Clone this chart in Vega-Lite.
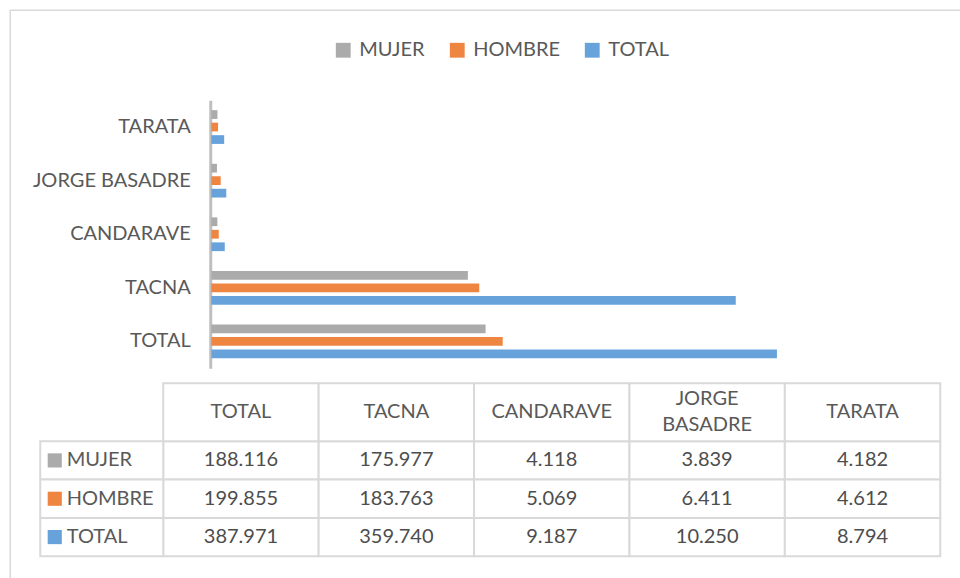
{
  "$schema": "https://vega.github.io/schema/vega-lite/v6.json",
  "padding": {"left": 9.25, "top": 9.25, "right": 0, "bottom": 0},
  "bounds": "flush",
  "spacing": 73,
  "config": {
    "view": {"stroke": null},
    "font": "Lato",
    "locale": {"number": {"decimal": ",", "thousands": ".", "grouping": [3], "currency": ["", ""]}}
  },
  "datasets": {
    "pob": [
      {"provincia": "TOTAL", "sexo": "MUJER", "valor": 188116},
      {"provincia": "TACNA", "sexo": "MUJER", "valor": 175977},
      {"provincia": "CANDARAVE", "sexo": "MUJER", "valor": 4118},
      {"provincia": "JORGE BASADRE", "sexo": "MUJER", "valor": 3839},
      {"provincia": "TARATA", "sexo": "MUJER", "valor": 4182},
      {"provincia": "TOTAL", "sexo": "HOMBRE", "valor": 199855},
      {"provincia": "TACNA", "sexo": "HOMBRE", "valor": 183763},
      {"provincia": "CANDARAVE", "sexo": "HOMBRE", "valor": 5069},
      {"provincia": "JORGE BASADRE", "sexo": "HOMBRE", "valor": 6411},
      {"provincia": "TARATA", "sexo": "HOMBRE", "valor": 4612},
      {"provincia": "TOTAL", "sexo": "TOTAL", "valor": 387971},
      {"provincia": "TACNA", "sexo": "TOTAL", "valor": 359740},
      {"provincia": "CANDARAVE", "sexo": "TOTAL", "valor": 9187},
      {"provincia": "JORGE BASADRE", "sexo": "TOTAL", "valor": 10250},
      {"provincia": "TARATA", "sexo": "TOTAL", "valor": 8794}
    ]
  },
  "resolve": {"scale": {"color": "independent"}, "legend": {"color": "independent"}},
  "vconcat": [
    {
      "width": 777,
      "height": 268,
      "resolve": {"scale": {"x": "independent", "y": "independent"}},
      "layer": [
        {
          "data": {"values": [{"k": "frame"}]},
          "mark": {"type": "rect", "fill": null, "stroke": "#D9D9D9", "strokeWidth": 1.5},
          "encoding": {
            "x": {"field": "k", "type": "nominal", "scale": {"domain": ["frame"], "range": [-153, 820], "paddingInner": 0, "paddingOuter": 0}, "axis": null},
            "y": {"field": "k", "type": "nominal", "scale": {"domain": ["frame"], "range": [-90, 500], "paddingInner": 0, "paddingOuter": 0}, "axis": null}
          }
        },
        {
          "data": {"name": "pob"},
          "mark": {"type": "bar"},
          "encoding": {
            "y": {
              "field": "provincia", "type": "nominal",
              "sort": ["TARATA", "JORGE BASADRE", "CANDARAVE", "TACNA", "TOTAL"],
              "scale": {"paddingInner": 0.3, "paddingOuter": 0.15},
              "axis": {"title": null, "offset": -47, "domainColor": "#BFBFBF", "domainWidth": 3, "ticks": false, "labelPadding": 20, "labelFont": "Lato", "labelFontSize": 20, "labelColor": "#595959"}
            },
            "yOffset": {
              "field": "sexo", "type": "nominal",
              "sort": ["MUJER", "HOMBRE", "TOTAL"],
              "scale": {"paddingInner": 0.3, "paddingOuter": 0.15}
            },
            "x": {
              "field": "valor", "type": "quantitative",
              "scale": {"domain": [-33000, 500000], "nice": false, "zero": false},
              "axis": null
            },
            "color": {
              "field": "sexo", "type": "nominal",
              "scale": {"domain": ["MUJER", "HOMBRE", "TOTAL"], "range": ["#ABABAB", "#EE8540", "#67A3DA"]},
              "legend": {
                "title": null, "orient": "none", "direction": "horizontal",
                "legendX": 170, "legendY": -60,
                "symbolType": "square", "symbolSize": 220, "symbolStrokeWidth": 0,
                "labelFont": "Lato", "labelFontSize": 20, "labelColor": "#595959",
                "labelOffset": 6, "columnPadding": 22
              }
            }
          }
        }
      ]
    },
    {
      "width": 777,
      "height": 115,
      "data": {"name": "pob"},
      "resolve": {"scale": {"x": "independent", "y": "independent"}},
      "layer": [
        {
          "mark": {"type": "rect", "fill": "white", "stroke": "#D9D9D9", "strokeWidth": 2},
          "encoding": {
            "x": {"field": "provincia", "type": "nominal", "scale": {"domain": ["TOTAL", "TACNA", "CANDARAVE", "JORGE BASADRE", "TARATA"], "paddingInner": 0, "paddingOuter": 0}, "axis": null},
            "y": {"field": "sexo", "type": "nominal", "scale": {"domain": ["MUJER", "HOMBRE", "TOTAL"], "paddingInner": 0, "paddingOuter": 0}, "axis": null}
          }
        },
        {
          "mark": {"type": "text", "font": "Lato", "fontSize": 20, "color": "#4D4D4D"},
          "encoding": {
            "x": {"field": "provincia", "type": "nominal", "scale": {"domain": ["TOTAL", "TACNA", "CANDARAVE", "JORGE BASADRE", "TARATA"], "paddingInner": 0, "paddingOuter": 0}, "axis": null},
            "y": {"field": "sexo", "type": "nominal", "scale": {"domain": ["MUJER", "HOMBRE", "TOTAL"], "paddingInner": 0, "paddingOuter": 0}, "axis": null},
            "text": {"field": "valor", "type": "quantitative", "format": ","}
          }
        },
        {
          "transform": [{"filter": "datum.sexo == 'MUJER'"}],
          "mark": {"type": "rect", "fill": "white", "stroke": "#D9D9D9", "strokeWidth": 2},
          "encoding": {
            "x": {"field": "provincia", "type": "nominal", "scale": {"domain": ["TOTAL", "TACNA", "CANDARAVE", "JORGE BASADRE", "TARATA"], "paddingInner": 0, "paddingOuter": 0}, "axis": null},
            "y": {"datum": "hdr", "type": "nominal", "scale": {"domain": ["hdr"], "range": [-58, 0], "paddingInner": 0, "paddingOuter": 0}, "axis": null}
          }
        },
        {
          "transform": [{"filter": "datum.sexo == 'MUJER' && datum.provincia != 'JORGE BASADRE'"}],
          "mark": {"type": "text", "font": "Lato", "fontSize": 20, "color": "#595959"},
          "encoding": {
            "x": {"field": "provincia", "type": "nominal", "scale": {"domain": ["TOTAL", "TACNA", "CANDARAVE", "JORGE BASADRE", "TARATA"], "paddingInner": 0, "paddingOuter": 0}, "axis": null},
            "y": {"datum": "hdr", "type": "nominal", "scale": {"domain": ["hdr"], "range": [-58, 0], "paddingInner": 0, "paddingOuter": 0}, "axis": null},
            "text": {"field": "provincia", "type": "nominal"}
          }
        },
        {
          "transform": [{"filter": "datum.sexo == 'MUJER' && datum.provincia == 'JORGE BASADRE'"}],
          "mark": {"type": "text", "font": "Lato", "fontSize": 20, "color": "#595959", "lineBreak": " ", "lineHeight": 26, "dy": -13},
          "encoding": {
            "x": {"field": "provincia", "type": "nominal", "scale": {"domain": ["TOTAL", "TACNA", "CANDARAVE", "JORGE BASADRE", "TARATA"], "paddingInner": 0, "paddingOuter": 0}, "axis": null},
            "y": {"datum": "hdr", "type": "nominal", "scale": {"domain": ["hdr"], "range": [-58, 0], "paddingInner": 0, "paddingOuter": 0}, "axis": null},
            "text": {"field": "provincia", "type": "nominal"}
          }
        },
        {
          "transform": [{"filter": "datum.provincia == 'TOTAL'"}],
          "mark": {"type": "rect", "fill": "white", "stroke": "#D9D9D9", "strokeWidth": 2},
          "encoding": {
            "x": {"datum": "lbl", "type": "nominal", "scale": {"domain": ["lbl"], "range": [-123, 0], "paddingInner": 0, "paddingOuter": 0}, "axis": null},
            "y": {"field": "sexo", "type": "nominal", "scale": {"domain": ["MUJER", "HOMBRE", "TOTAL"], "paddingInner": 0, "paddingOuter": 0}, "axis": null}
          }
        },
        {
          "transform": [{"filter": "datum.provincia == 'TOTAL'"}],
          "mark": {"type": "point", "shape": "square", "filled": true, "size": 200, "opacity": 1, "xOffset": -47},
          "encoding": {
            "x": {"datum": "lbl", "type": "nominal", "scale": {"domain": ["lbl"], "range": [-123, 0], "paddingInner": 0, "paddingOuter": 0}, "axis": null},
            "y": {"field": "sexo", "type": "nominal", "scale": {"domain": ["MUJER", "HOMBRE", "TOTAL"], "paddingInner": 0, "paddingOuter": 0}, "axis": null},
            "color": {"field": "sexo", "type": "nominal", "scale": {"domain": ["MUJER", "HOMBRE", "TOTAL"], "range": ["#ABABAB", "#EE8540", "#67A3DA"]}, "legend": null}
          }
        },
        {
          "transform": [{"filter": "datum.provincia == 'TOTAL'"}],
          "mark": {"type": "text", "font": "Lato", "fontSize": 20, "color": "#595959", "align": "left", "dx": -35},
          "encoding": {
            "x": {"datum": "lbl", "type": "nominal", "scale": {"domain": ["lbl"], "range": [-123, 0], "paddingInner": 0, "paddingOuter": 0}, "axis": null},
            "y": {"field": "sexo", "type": "nominal", "scale": {"domain": ["MUJER", "HOMBRE", "TOTAL"], "paddingInner": 0, "paddingOuter": 0}, "axis": null},
            "text": {"field": "sexo", "type": "nominal"}
          }
        }
      ]
    }
  ]
}
